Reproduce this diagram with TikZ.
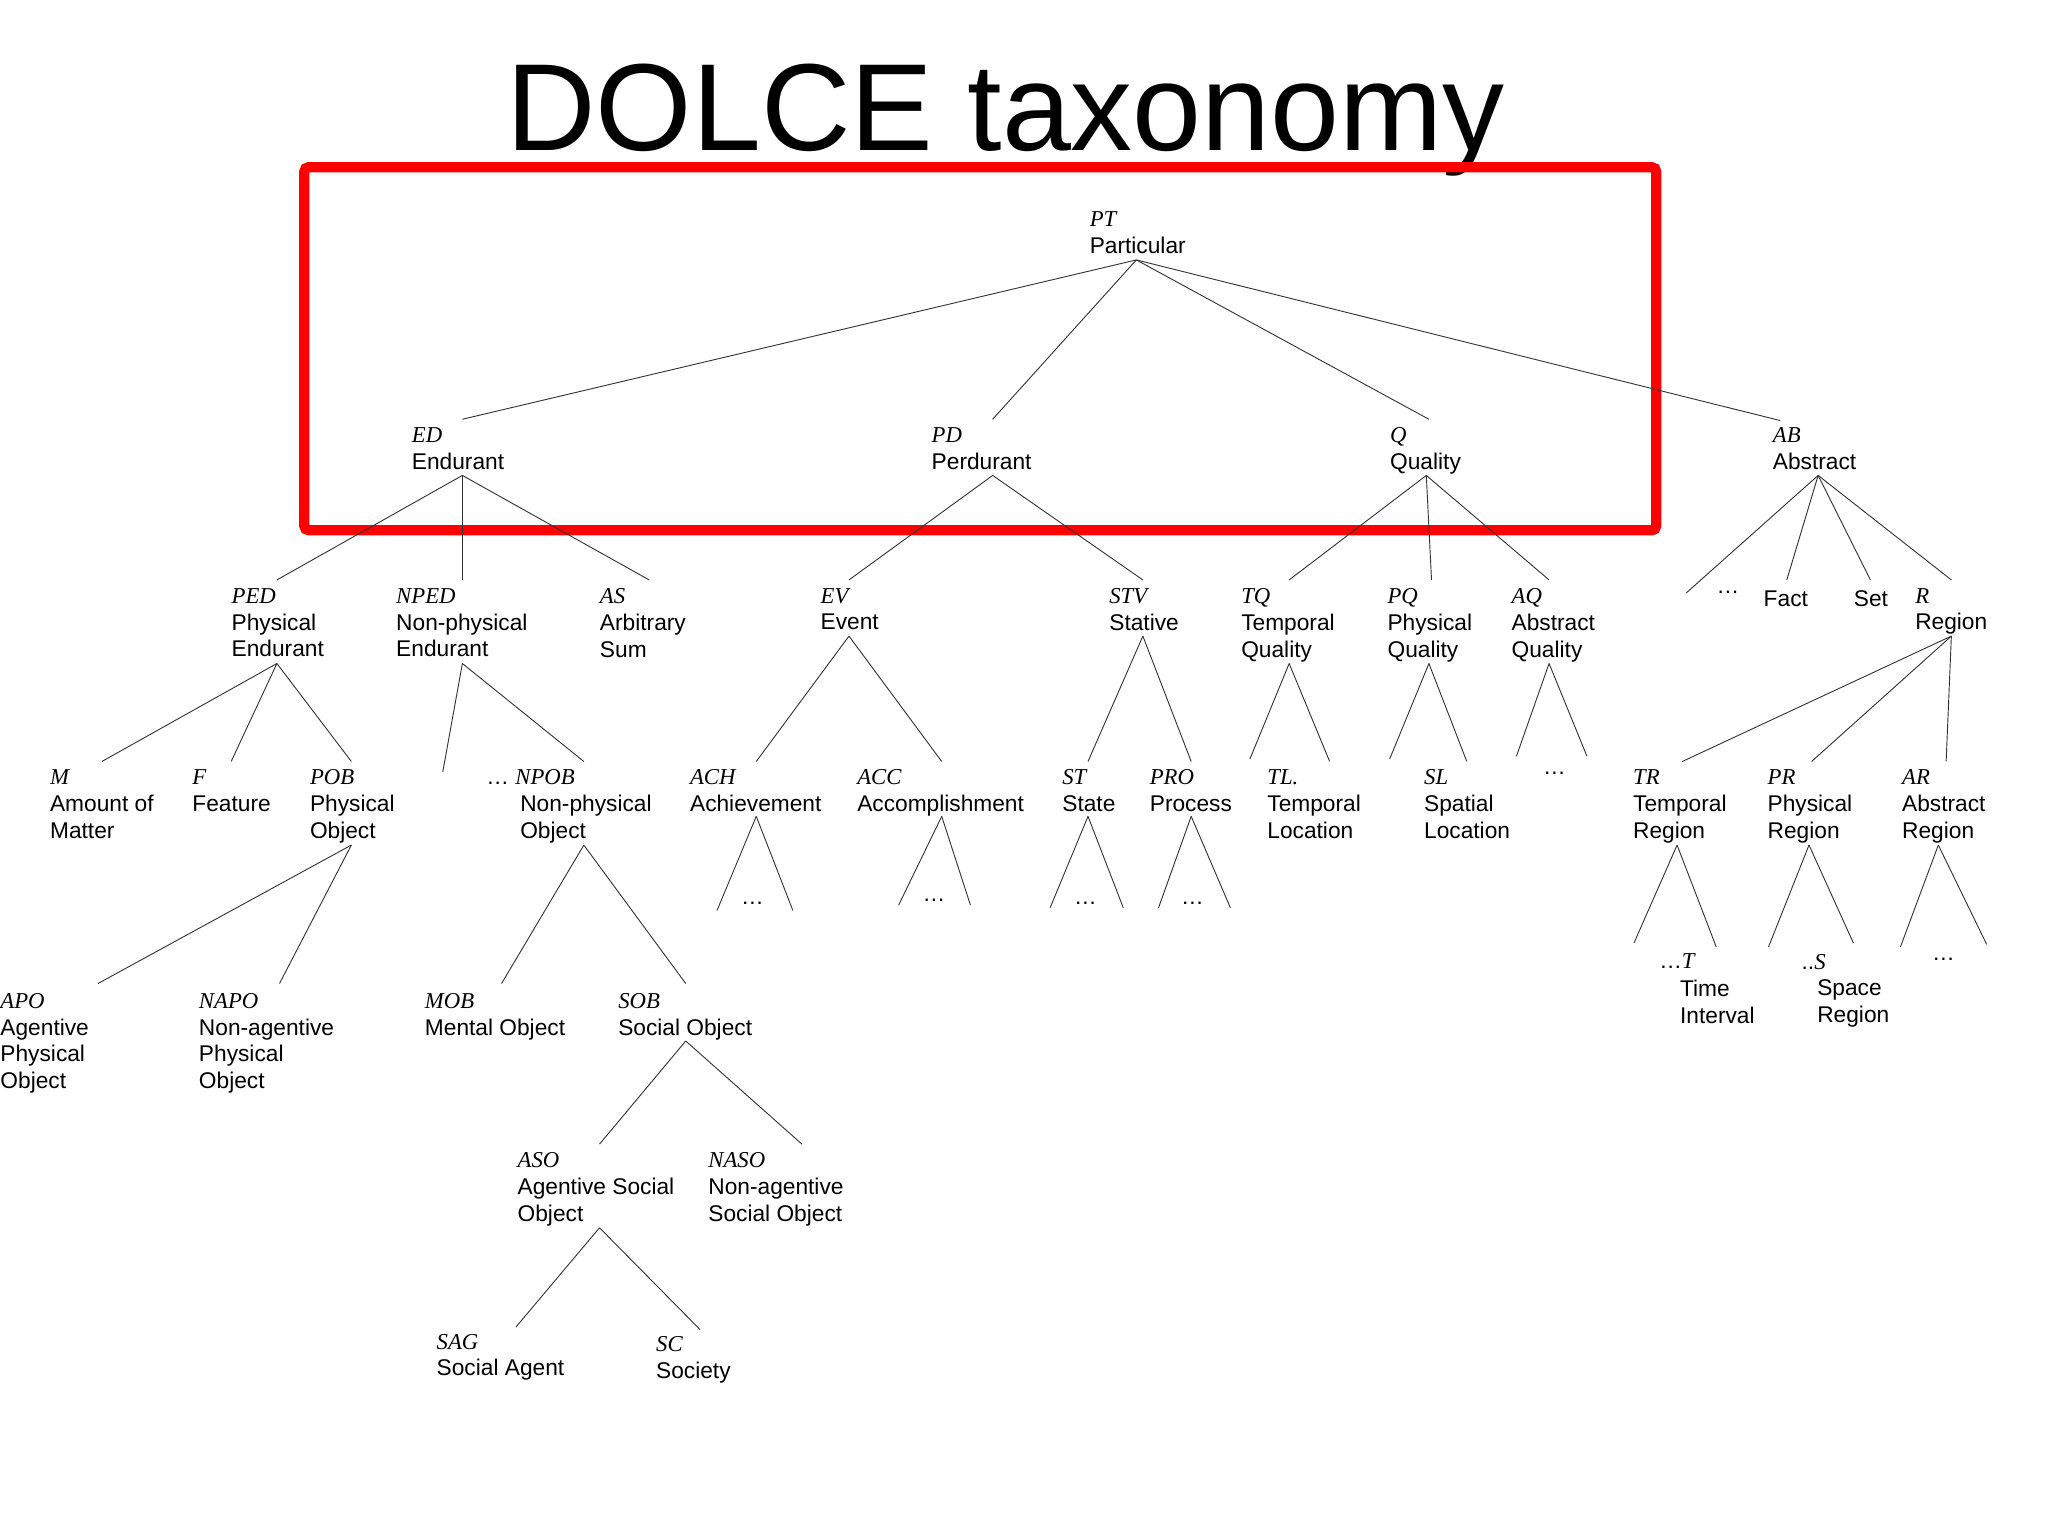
\documentclass[tikz,border=0pt]{standalone}
\usepackage{fontspec}
\setmainfont{Liberation Sans}
\newfontfamily\abfont{Liberation Serif}
\newcommand{\ab}[1]{{\abfont\itshape #1}}
\begin{document}
\begin{tikzpicture}[x=0.02cm,y=-0.02cm,
  lbl/.style={anchor=north west,inner sep=0pt,align=left,yshift=-2.3pt,font=\fontsize{9.9pt}{11.7pt}\selectfont},
  edge/.style={line width=0.4pt,black!80}]
\useasboundingbox (0,0) rectangle (1568,1176);
\node[font=\fontsize{54pt}{54pt}\selectfont,anchor=base] (title) at (770,115) {DOLCE taxonomy};
\draw[red,line width=4.5pt,rounded corners=2pt] (233,128) rectangle (1268,406);
\newcommand{\N}[4]{\node[lbl] (#1) at (#2,#3) {#4};}
% nodes
\N{PT}{834}{158}{\ab{PT}\\Particular}
\N{ED}{315}{323}{\ab{ED}\\Endurant}
\N{PD}{713}{323}{\ab{PD}\\Perdurant}
\N{Q}{1064}{323}{\ab{Q}\\Quality}
\N{AB}{1357}{323}{\ab{AB}\\Abstract}
\N{PED}{177}{446}{\ab{PED}\\Physical\\Endurant}
\N{NPED}{303}{446}{\ab{NPED}\\Non-physical\\Endurant}
\N{AS}{459}{446}{\ab{AS}\\Arbitrary\\Sum}
\N{EV}{628}{446}{\ab{EV}\\Event}
\N{STV}{849}{446}{\ab{STV}\\Stative}
\N{TQ}{950}{446}{\ab{TQ}\\Temporal\\Quality}
\N{PQ}{1062}{446}{\ab{PQ}\\Physical\\Quality}
\N{AQ}{1157}{446}{\ab{AQ}\\Abstract\\Quality}
\N{ABd}{1314}{448}{\dots}
\N{FACT}{1350}{448}{Fact}
\N{SET}{1419}{448}{Set}
\N{R}{1466}{446}{\ab{R}\\Region}
\N{M}{38}{585}{\ab{M}\\Amount of\\Matter}
\N{F}{147}{585}{\ab{F}\\Feature}
\N{POB}{237}{585}{\ab{POB}\\Physical\\Object}
\N{NPOB}{372}{585}{\dots\ \ab{NPOB}}
\N{NPOBt}{398}{585}{\ab{\phantom{NPOB}}\\Non-physical\\Object}
\N{ACH}{528}{585}{\ab{ACH}\\Achievement}
\N{ACC}{656}{585}{\ab{ACC}\\Accomplishment}
\N{ST}{813}{585}{\ab{ST}\\State}
\N{PRO}{880}{585}{\ab{PRO}\\Process}
\N{TL}{970}{585}{\ab{TL.}\\Temporal\\Location}
\N{SL}{1090}{585}{\ab{SL}\\Spatial\\Location}
\N{AQd}{1181}{587}{\dots}
\N{TR}{1250}{585}{\ab{TR}\\Temporal\\Region}
\N{PR}{1353}{585}{\ab{PR}\\Physical\\Region}
\N{AR}{1456}{585}{\ab{AR}\\Abstract\\Region}
\N{ACHd}{567}{686}{\dots}
\N{ACCd}{706}{684}{\dots}
\N{STd}{822}{686}{\dots}
\N{PROd}{904}{686}{\dots}
\N{T}{1270}{726}{\dots\ab{T}}
\N{Tl}{1286}{746}{Time\\Interval}
\N{S}{1379}{726}{..\ab{S}}
\N{Sl}{1391}{746}{Space\\Region}
\N{ARd}{1479}{729}{\dots}
\N{APO}{0}{756}{\ab{APO}\\Agentive\\Physical\\Object}
\N{NAPO}{152}{756}{\ab{NAPO}\\Non-agentive\\Physical\\Object}
\N{MOB}{325}{756}{\ab{MOB}\\Mental Object}
\N{SOB}{473}{756}{\ab{SOB}\\Social Object}
\N{ASO}{396}{878}{\ab{ASO}\\Agentive Social\\Object}
\N{NASO}{542}{878}{\ab{NASO}\\Non-agentive\\Social Object}
\N{SAG}{334}{1017}{\ab{SAG}\\Social Agent}
\N{SC}{502}{1019}{\ab{SC}\\Society}
% attachment coordinates
\foreach \n/\x/\y in {PTb/870/199,EDt/354/321,PDt/760/321,Qt/1094/321,ABt/1363/322,
 EDb/354/364,PDb/760/364,Qb/1092/364,ABb/1392/364,
 PEDt/212/444,NPEDt/354/444,ASt/497/444,EVt/650/444,STVt/875/444,TQt/987/444,PQt/1096/444,AQt/1186/444,
 ABdt/1291/454,FACTt/1368/444,SETt/1432/444,Rt/1494/444,
 PEDb/212/508,NPEDb/354/508,EVb/650/487,STVb/875/487,TQb/987/508,PQb/1094/508,AQb/1186/508,Rb/1494/487,
 Mt/78/583,Ft/177/583,POBt/269/583,NPa/339/591,NPOBtt/447/583,ACHt/579/583,ACCt/721/583,STt/833/583,PROt/912/583,
 TQa/957/581,TLt/1018/583,PQa/1064/581,SLt/1123/583,AQa/1161/579,AQc/1215/579,TRt/1288/583,PRt/1387/583,ARt/1490/583,
 POBb/269/647,NPOBb/447/647,ACHb/579/625,ACCb/721/625,STb/833/625,PROb/912/625,TRb/1284/647,PRb/1385/647,ARb/1484/647,
 ACHa/549/697,ACHc/607/697,ACCa/688/693,ACCc/743/693,STa/804/695,STc/860/695,PROa/887/695,PROc/942/695,
 TRa/1251/722,TRc/1314/725,PRa/1354/725,PRc/1419/722,ARa/1455/725,ARc/1521/723,
 APOt/75/753,NAPOt/214/753,MOBt/384/753,SOBt/525/753,SOBb/525/797,ASOt/459/876,NASOt/614/876,ASOb/459/940,SAGt/395/1016,SCt/536/1018}
 {\coordinate (\n) at (\x,\y);}
\foreach \a/\b in {PTb/EDt,PTb/PDt,PTb/Qt,PTb/ABt,
 EDb/PEDt,EDb/NPEDt,EDb/ASt,PDb/EVt,PDb/STVt,Qb/TQt,Qb/PQt,Qb/AQt,ABb/ABdt,ABb/FACTt,ABb/SETt,ABb/Rt,
 PEDb/Mt,PEDb/Ft,PEDb/POBt,NPEDb/NPa,NPEDb/NPOBtt,EVb/ACHt,EVb/ACCt,STVb/STt,STVb/PROt,
 TQb/TQa,TQb/TLt,PQb/PQa,PQb/SLt,AQb/AQa,AQb/AQc,Rb/TRt,Rb/PRt,Rb/ARt,
 ACHb/ACHa,ACHb/ACHc,ACCb/ACCa,ACCb/ACCc,STb/STa,STb/STc,PROb/PROa,PROb/PROc,
 TRb/TRa,TRb/TRc,PRb/PRa,PRb/PRc,ARb/ARa,ARb/ARc,
 POBb/APOt,POBb/NAPOt,NPOBb/MOBt,NPOBb/SOBt,SOBb/ASOt,SOBb/NASOt,ASOb/SAGt,ASOb/SCt}
 {\draw[edge] (\a) -- (\b);}
\end{tikzpicture}
\end{document}
